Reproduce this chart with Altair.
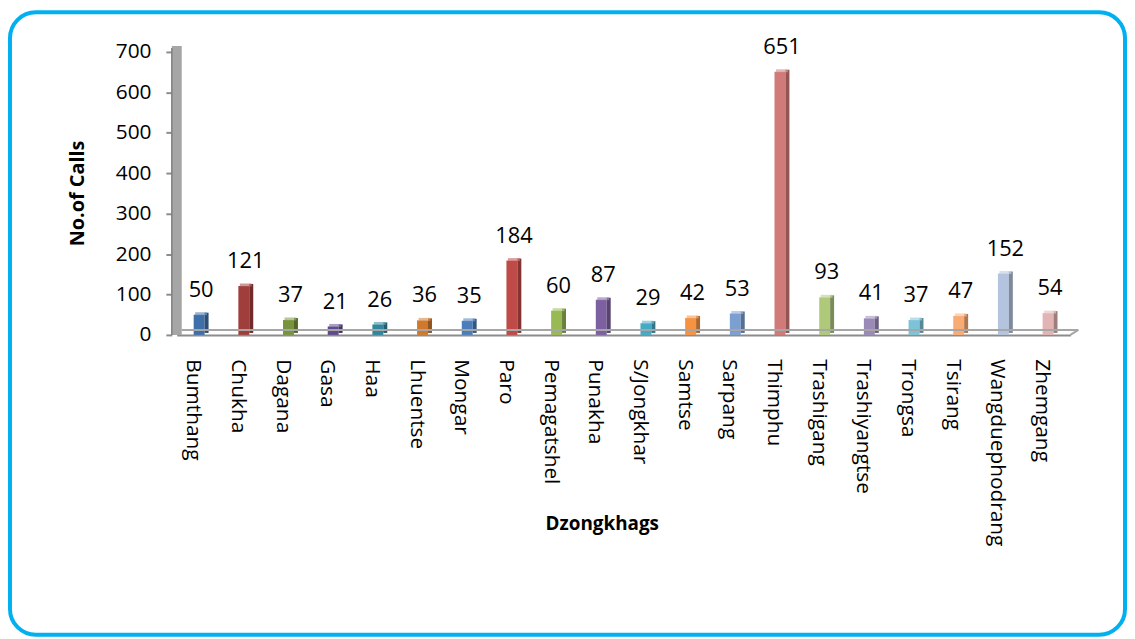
import altair as alt
import pandas as pd

names = ["Bumthang", "Chukha", "Dagana", "Gasa", "Haa", "Lhuentse", "Mongar", "Paro",
         "Pemagatshel", "Punakha", "S/Jongkhar", "Samtse", "Sarpang", "Thimphu",
         "Trashigang", "Trashiyangtse", "Trongsa", "Tsirang", "Wangduephodrang", "Zhemgang"]
values = [50, 121, 37, 21, 26, 36, 35, 184, 60, 87, 29, 42, 53, 651, 93, 41, 37, 47, 152, 54]
colors = ["#3F6FA8", "#A03E3C", "#77933C", "#5F4B8B", "#31859C", "#D0792C", "#4A7EBB",
          "#BE4B48", "#98B954", "#7D60A0", "#46AAC5", "#F69240", "#7C9FD1", "#D07A79",
          "#AFC97A", "#9B8AB7", "#7DC3D8", "#F9AB73", "#B5C4DE", "#E2B4B3"]
y_ticks = [0, 100, 200, 300, 400, 500, 600, 700]


def shade(c, f):
    r, g, b = int(c[1:3], 16), int(c[3:5], 16), int(c[5:7], 16)
    if f < 1:
        r, g, b = int(r * f), int(g * f), int(b * f)
    else:
        r, g, b = [int(v + (255 - v) * (f - 1)) for v in (r, g, b)]
    return "#%02x%02x%02x" % (r, g, b)


df = pd.DataFrame({
    "name": names,
    "value": values,
    "front": colors,
    "side": [shade(c, 0.7) for c in colors],
    "top": [shade(c, 1.25) for c in colors],
})

FONT = "Open Sans"
W, H = 900, 285

x_enc = alt.X("name:N", sort=names, scale=alt.Scale(paddingInner=0, paddingOuter=0),
              axis=alt.Axis(labelAngle=90, labelAlign="left", labelBaseline="middle",
                            labelPadding=24, ticks=False, domainColor="#8C8C8C", domainWidth=2,
                            labelFont=FONT, labelFontSize=21, labelColor="#000000", labelLimit=400,
                            labelOffset=-6,
                            title="Dzongkhags", titleFont=FONT, titleFontSize=19,
                            titleFontWeight="bold", titleColor="#000000",
                            titleX=428, titleY=190, titleAlign="center", titleBaseline="middle"))
y_enc = alt.Y("value:Q", scale=alt.Scale(domain=[0, 700], nice=False),
              axis=alt.Axis(values=y_ticks, offset=5, tickSize=6, tickColor="#8C8C8C",
                            tickWidth=2, domain=False, grid=False, labelPadding=15,
                            labelFont=FONT, labelFontSize=21, labelColor="#000000",
                            title="No.of Calls", titleFont=FONT, titleFontSize=20,
                            titleFontWeight="bold", titleColor="#000000",
                            titleX=-95, titleY=142, titleAlign="center", titleBaseline="middle"))

base = alt.Chart(df)

front = base.mark_bar(size=11).encode(
    x=x_enc, y=y_enc, color=alt.Color("front:N", scale=None))

side = base.mark_bar(size=4, xOffset=7.5, yOffset=-2).encode(
    x=x_enc, y=y_enc, color=alt.Color("side:N", scale=None))

top = base.mark_tick(orient="horizontal", thickness=3, size=12, xOffset=2, yOffset=-1).encode(
    x=x_enc, y=y_enc, color=alt.Color("top:N", scale=None))

labels = base.mark_text(font=FONT, fontSize=22, color="#000000", baseline="alphabetic",
                        dy=-18, dx=2).encode(x=x_enc, y=y_enc, text="value:Q")

one = alt.Chart(pd.DataFrame({"a": [0]}))
wall = one.mark_rect(color="#A6A6A6").encode(
    x=alt.value(-5), x2=alt.value(5), y=alt.value(-6), y2=alt.value(H))
wall_edge = one.mark_rule(color="#7F7F7F", strokeWidth=1.5).encode(
    x=alt.value(-5), y=alt.value(-4), y2=alt.value(H))
floor_back = one.mark_rule(color="#A6A6A6", strokeWidth=2).encode(
    x=alt.value(5), x2=alt.value(908), y=alt.value(H - 5), y2=alt.value(H - 5))
floor_end = one.mark_rule(color="#A6A6A6", strokeWidth=2).encode(
    x=alt.value(900), x2=alt.value(908), y=alt.value(H), y2=alt.value(H - 5))
border = one.mark_rect(filled=False, stroke="#00B0F0", strokeWidth=4, cornerRadius=26).encode(
    x=alt.value(-168), x2=alt.value(955), y=alt.value(-40), y2=alt.value(587))

chart = alt.layer(front, side, top, labels, wall, wall_edge, floor_back, floor_end, border).properties(
    width=W, height=H,
    padding={"left": 170, "top": 42, "right": 57, "bottom": 304},
    autosize=alt.AutoSizeParams(type="none"),
    background="#FFFFFF",
).configure_view(strokeWidth=0, stroke="transparent")

chart.save("out.html", embed_options={"renderer": "svg", "actions": False})
